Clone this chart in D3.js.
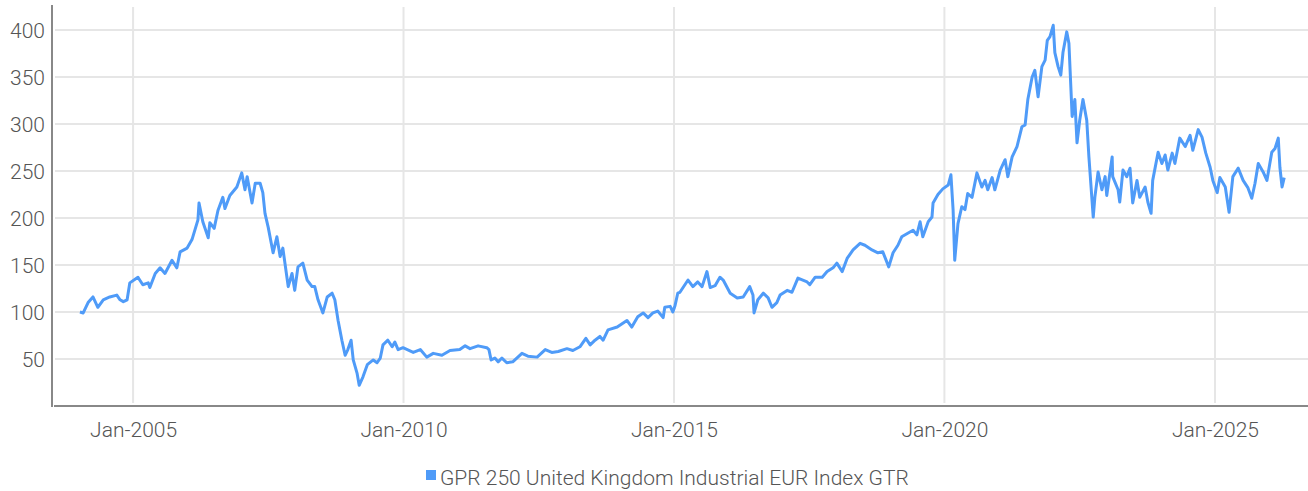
<!DOCTYPE html>
<html>
<head>
<meta charset="utf-8">
<script src="https://cdn.jsdelivr.net/npm/d3@7"></script>
<style>
    body { margin: 0; background: #fff; }
    svg text { font-family: Roboto, "Liberation Sans", sans-serif; font-weight: 300; fill: #555; }
</style>
</head>
<body>
<svg id="chart" width="1308" height="491"></svg>
<script>
// series name and readings (decimal year, index level)
const seriesName = "GPR 250 United Kingdom Industrial EUR Index GTR";
const tickYears = [2005, 2010, 2015, 2020, 2025];
const yTicks = [50, 100, 150, 200, 250, 300, 350, 400];

const years = [
    2004.02, 2004.08, 2004.17, 2004.26, 2004.35, 2004.45, 2004.57, 2004.70, 2004.76, 2004.82, 2004.89, 2004.94,
    2005.09, 2005.18, 2005.28, 2005.31, 2005.41, 2005.50, 2005.59, 2005.72, 2005.81, 2005.87,
    2006.00, 2006.09, 2006.20, 2006.22, 2006.29, 2006.39, 2006.42, 2006.50, 2006.57, 2006.66, 2006.70, 2006.79, 2006.92,
    2007.01, 2007.07, 2007.11, 2007.20, 2007.26, 2007.35, 2007.40, 2007.44, 2007.50, 2007.59, 2007.66, 2007.72, 2007.77, 2007.87, 2007.94, 2007.99,
    2008.05, 2008.14, 2008.22, 2008.31, 2008.36, 2008.42, 2008.51, 2008.59, 2008.68, 2008.73, 2008.79, 2008.86, 2008.92, 2008.97,
    2009.03, 2009.07, 2009.14, 2009.18, 2009.25, 2009.33, 2009.44, 2009.51, 2009.57, 2009.62, 2009.71, 2009.79, 2009.84, 2009.90, 2009.99,
    2010.18, 2010.31, 2010.43, 2010.55, 2010.71, 2010.86,
    2011.04, 2011.14, 2011.23, 2011.38, 2011.54, 2011.58, 2011.62, 2011.69, 2011.75, 2011.82, 2011.91,
    2012.02, 2012.19, 2012.30, 2012.47, 2012.62, 2012.74, 2012.86,
    2013.02, 2013.13, 2013.26, 2013.37, 2013.45, 2013.54, 2013.63, 2013.69, 2013.78, 2013.95,
    2014.13, 2014.22, 2014.33, 2014.43, 2014.52, 2014.61, 2014.70, 2014.80, 2014.83, 2014.93, 2014.98,
    2015.02, 2015.07, 2015.11, 2015.26, 2015.35, 2015.44, 2015.52, 2015.61, 2015.67, 2015.76, 2015.85, 2015.91,
    2016.04, 2016.17, 2016.28, 2016.40, 2016.46, 2016.48, 2016.55, 2016.65, 2016.74, 2016.81, 2016.90, 2016.96,
    2017.09, 2017.18, 2017.29, 2017.46, 2017.51, 2017.61, 2017.74, 2017.83, 2017.94,
    2018.01, 2018.11, 2018.20, 2018.31, 2018.44, 2018.53, 2018.66, 2018.77, 2018.86, 2018.97,
    2019.05, 2019.14, 2019.21, 2019.33, 2019.42, 2019.49, 2019.55, 2019.60, 2019.70, 2019.77, 2019.79, 2019.88, 2019.97,
    2020.07, 2020.12, 2020.16, 2020.19, 2020.25, 2020.32, 2020.38, 2020.43, 2020.51, 2020.60, 2020.69, 2020.75, 2020.80, 2020.88, 2020.93,
    2021.03, 2021.12, 2021.17, 2021.25, 2021.34, 2021.43, 2021.49, 2021.54, 2021.62, 2021.67, 2021.73, 2021.80, 2021.86, 2021.90, 2021.95,
    2022.01, 2022.04, 2022.10, 2022.15, 2022.19, 2022.26, 2022.30, 2022.36, 2022.41, 2022.45, 2022.50, 2022.56, 2022.63, 2022.67, 2022.75, 2022.78, 2022.84, 2022.91, 2022.97,
    2023.00, 2023.10, 2023.11, 2023.21, 2023.24, 2023.30, 2023.37, 2023.43, 2023.48, 2023.56, 2023.61, 2023.71, 2023.76, 2023.82, 2023.85, 2023.95,
    2024.02, 2024.08, 2024.13, 2024.21, 2024.26, 2024.35, 2024.45, 2024.54, 2024.59, 2024.69, 2024.76, 2024.83, 2024.91, 2024.96,
    2025.04, 2025.09, 2025.19, 2025.26, 2025.33, 2025.43, 2025.52, 2025.61, 2025.68, 2025.74, 2025.80, 2025.89, 2025.96,
    2026.05, 2026.11, 2026.17, 2026.20, 2026.24, 2026.28
];

const values = [
    100, 99, 110, 116, 105, 113, 116, 118, 113, 111, 113, 131,
    137, 129, 131, 126, 141, 147, 141, 155, 147, 164,
    168, 177, 198, 216, 196, 179, 195, 189, 208, 222, 210, 224, 233,
    248, 230, 244, 216, 237, 237, 227, 205, 190, 163, 180, 159, 168, 127, 141, 123,
    148, 152, 134, 127, 127, 113, 99, 116, 120, 113, 91, 70, 54, 60,
    70, 49, 35, 22, 31, 44, 49, 46, 51, 65, 70, 63, 68, 60, 62,
    57, 60, 52, 56, 54, 59,
    60, 64, 61, 64, 62, 60, 49, 51, 47, 51, 46,
    47, 56, 53, 52, 60, 57, 58,
    61, 59, 63, 72, 65, 70, 74, 70, 81, 84,
    91, 84, 95, 99, 94, 99, 101, 94, 105, 106, 100,
    107, 120, 121, 134, 127, 132, 127, 143, 126, 128, 137, 134,
    120, 115, 116, 127, 118, 99, 113, 120, 115, 105, 110, 118,
    123, 121, 136, 132, 129, 137, 137, 143, 147,
    152, 143, 157, 166, 173, 171, 166, 163, 164, 148,
    163, 171, 180, 184, 187, 182, 196, 180, 196, 201, 216, 225, 231,
    235, 246, 209, 155, 194, 212, 209, 226, 222, 248, 233, 240, 230, 243, 230,
    251, 262, 244, 265, 276, 297, 299, 326, 350, 357, 329, 361, 368, 389, 393,
    405, 376, 361, 352, 376, 398, 386, 308, 326, 280, 304, 326, 304, 265, 201, 222, 249, 230, 244,
    224, 265, 244, 230, 217, 251, 244, 253, 216, 240, 222, 233, 217, 205, 240, 270,
    258, 267, 251, 269, 258, 285, 276, 288, 272, 294, 286, 269, 254, 240,
    227, 243, 233, 206, 244, 253, 240, 232, 221, 237, 258, 249, 240,
    270, 274, 285, 254, 233, 243
];

function yearToDate(t) {
    let yr = Math.floor(t);
    let start = Date.UTC(yr, 0, 1), end = Date.UTC(yr + 1, 0, 1);
    return new Date(start + (t - yr) * (end - start));
}

const data = years.map((t, i) => ({date: yearToDate(t), value: values[i]}));

const svg = d3.select("#chart");
const margin = {left: 54, right: 1308, top: 5, bottom: 406};

const x = d3.scaleUtc()
    .domain([yearToDate(2003.54), yearToDate(2026.72)])
    .range([margin.left, margin.right]);
const y = d3.scaleLinear()
    .domain([0, 426.6])
    .range([margin.bottom, margin.top]);

// grid
const grid = svg.append("g").attr("class", "grid");
grid.selectAll(".hgrid")
    .data(yTicks)
    .enter().append("line")
    .attr("x1", margin.left + 1).attr("x2", margin.right)
    .attr("y1", d => y(d)).attr("y2", d => y(d))
    .style("stroke", "#e6e6e6").style("stroke-width", 2);
grid.selectAll(".vgrid")
    .data(tickYears)
    .enter().append("line")
    .attr("x1", d => x(yearToDate(d))).attr("x2", d => x(yearToDate(d)))
    .attr("y1", 7).attr("y2", 403)
    .style("stroke", "#e6e6e6").style("stroke-width", 2);

// axes
const yAxis = d3.axisLeft(y).tickValues(yTicks).tickSize(0).tickPadding(7);
svg.append("g")
    .attr("class", "axis y-axis")
    .attr("transform", "translate(" + (margin.left - 2) + ",0)")
    .call(yAxis)
    .call(g => g.select(".domain").remove())
    .selectAll("text").style("font-size", "21px").attr("dy", "0.36em");

const xAxis = d3.axisBottom(x)
    .tickValues(tickYears.map(yearToDate))
    .tickFormat(d3.utcFormat("%b-%Y"))
    .tickSize(0).tickPadding(16);
svg.append("g")
    .attr("class", "axis x-axis")
    .attr("transform", "translate(0," + margin.bottom + ")")
    .call(xAxis)
    .call(g => g.select(".domain").remove())
    .selectAll("text").style("font-size", "21px");

svg.append("line")
    .attr("x1", margin.left - 2).attr("x2", margin.left - 2)
    .attr("y1", margin.top).attr("y2", margin.bottom + 1)
    .style("stroke", "#888").style("stroke-width", 2);
svg.append("line")
    .attr("x1", margin.left).attr("x2", margin.right)
    .attr("y1", margin.bottom).attr("y2", margin.bottom)
    .style("stroke", "#888").style("stroke-width", 2);

// series line
const line = d3.line()
    .x(d => x(d.date))
    .y(d => y(d.value));

svg.append("path")
    .datum(data)
    .attr("class", "line")
    .attr("d", line)
    .style("fill", "none")
    .style("stroke", "#4f9bf8")
    .style("stroke-width", 3)
    .style("stroke-linejoin", "round");

// legend
const legend = svg.append("g").attr("class", "legend");
legend.append("rect")
    .attr("x", 426).attr("y", 470)
    .attr("width", 10).attr("height", 10)
    .style("fill", "#4f9bf8");
legend.append("text")
    .attr("x", 440).attr("y", 477)
    .attr("dy", "0.36em")
    .style("font-size", "21px")
    .text(seriesName);
</script>
</body>
</html>
